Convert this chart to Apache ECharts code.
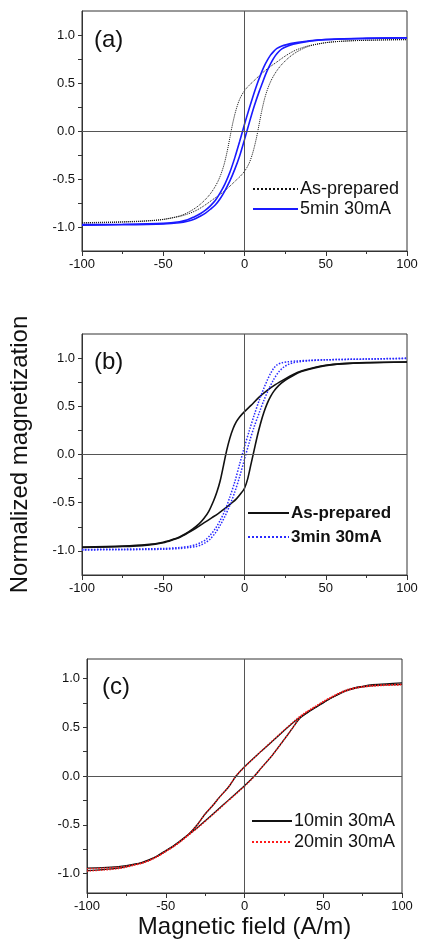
<!DOCTYPE html>
<html>
<head>
<meta charset="utf-8">
<script src="https://cdn.jsdelivr.net/npm/echarts@6/dist/echarts.min.js"></script>
<style>
html,body{margin:0;padding:0;background:#fff;}
#chart{width:422px;height:943px;}
</style>
</head>
<body>
<div id="chart"></div>
<script>
// ---- data: [field (A/m), normalized magnetization] ----
// Panel (a)
const aPrepUpper = [[-100,-0.955],[-75,-0.945],[-60,-0.935],[-50,-0.92],[-40,-0.885],[-35,-0.85],[-30,-0.80],[-26,-0.745],[-22,-0.675],[-19,-0.605],[-16.5,-0.53],[-14.5,-0.45],[-12.5,-0.345],[-10.5,-0.20],[-9,-0.07],[-7.5,0.06],[-6,0.17],[-4.5,0.26],[-3,0.33],[-1.5,0.38],[0,0.42],[2.5,0.47],[5,0.51],[10,0.59],[15,0.66],[20,0.72],[25,0.78],[30,0.83],[35,0.865],[40,0.89],[50,0.92],[60,0.935],[75,0.945],[100,0.95]];
const aPrepLower = [[-100,-0.96],[-75,-0.95],[-60,-0.938],[-50,-0.922],[-40,-0.89],[-35,-0.865],[-30,-0.83],[-25,-0.78],[-20,-0.72],[-15,-0.66],[-10,-0.59],[-5,-0.51],[-2.5,-0.47],[0,-0.42],[1.5,-0.38],[3,-0.33],[4.5,-0.26],[6,-0.17],[7.5,-0.06],[9,0.07],[10.5,0.20],[12.5,0.345],[14.5,0.45],[16.5,0.53],[19,0.605],[22,0.675],[26,0.745],[30,0.80],[35,0.85],[40,0.885],[50,0.92],[60,0.935],[75,0.945],[100,0.955]];
const a5minUpper = [[-100,-0.975],[-75,-0.972],[-50,-0.962],[-40,-0.945],[-35,-0.925],[-31,-0.895],[-27,-0.86],[-24,-0.825],[-21,-0.78],[-18,-0.725],[-15,-0.645],[-12,-0.55],[-9,-0.43],[-6,-0.28],[-3,-0.11],[0,0.07],[3,0.24],[6,0.40],[8,0.50],[10,0.59],[12,0.67],[14,0.735],[16,0.79],[18,0.83],[20,0.86],[23,0.885],[26,0.90],[30,0.915],[40,0.94],[50,0.953],[75,0.965],[100,0.97]];
const a5minLower = [[-100,-0.98],[-75,-0.977],[-50,-0.968],[-40,-0.955],[-35,-0.94],[-31,-0.92],[-27,-0.885],[-24,-0.855],[-21,-0.815],[-18,-0.77],[-15,-0.705],[-12,-0.62],[-9,-0.52],[-6,-0.40],[-3,-0.26],[0,-0.09],[3,0.09],[6,0.26],[9,0.41],[11,0.50],[13,0.59],[15,0.665],[17,0.73],[19,0.785],[21,0.825],[23,0.855],[26,0.88],[30,0.905],[40,0.935],[50,0.952],[75,0.965],[100,0.972]];
// Panel (b)
const bPrepUpper = [[-100,-0.96],[-75,-0.95],[-60,-0.935],[-50,-0.91],[-44,-0.88],[-40,-0.855],[-36,-0.82],[-32,-0.775],[-28,-0.72],[-25,-0.665],[-22,-0.59],[-19,-0.48],[-17,-0.39],[-15,-0.275],[-13,-0.12],[-11,0.04],[-9,0.17],[-7,0.27],[-5,0.34],[-3,0.39],[0,0.445],[4,0.51],[9,0.595],[14,0.665],[19,0.725],[25,0.785],[30,0.83],[35,0.865],[40,0.89],[50,0.925],[60,0.943],[75,0.953],[100,0.96]];
const bPrepLower = [[-100,-0.965],[-75,-0.955],[-60,-0.94],[-50,-0.915],[-44,-0.885],[-40,-0.86],[-35,-0.815],[-30,-0.765],[-25,-0.71],[-20,-0.655],[-16,-0.61],[-12,-0.56],[-8,-0.505],[-5,-0.46],[-2.5,-0.41],[0,-0.35],[2,-0.25],[4,-0.10],[6,0.05],[8,0.20],[10,0.33],[12,0.44],[14,0.53],[16,0.60],[18,0.655],[21,0.715],[25,0.77],[30,0.82],[35,0.86],[40,0.885],[50,0.922],[60,0.94],[75,0.952],[100,0.96]];
const b3minUpper = [[-100,-0.985],[-75,-0.982],[-50,-0.975],[-40,-0.965],[-34,-0.952],[-30,-0.935],[-27,-0.915],[-24,-0.885],[-21,-0.835],[-18,-0.77],[-15,-0.685],[-12,-0.58],[-9,-0.44],[-6,-0.285],[-3,-0.10],[0,0.08],[3,0.25],[6,0.41],[9,0.56],[12,0.69],[14,0.77],[16,0.84],[18,0.895],[20,0.93],[23,0.952],[27,0.962],[32,0.97],[40,0.977],[50,0.983],[75,0.99],[100,0.995]];
const b3minLower = [[-100,-0.99],[-75,-0.988],[-50,-0.983],[-40,-0.975],[-34,-0.965],[-30,-0.955],[-27,-0.94],[-24,-0.915],[-21,-0.875],[-18,-0.815],[-15,-0.735],[-12,-0.64],[-9,-0.525],[-6,-0.39],[-3,-0.23],[0,-0.05],[3,0.13],[6,0.29],[9,0.43],[12,0.565],[15,0.68],[18,0.78],[21,0.855],[24,0.905],[27,0.935],[30,0.952],[35,0.965],[40,0.973],[50,0.982],[75,0.99],[100,1.0]];
// Panel (c)
const c10minUpper = [[-100,-0.945],[-90,-0.94],[-80,-0.93],[-75,-0.92],[-70,-0.905],[-65,-0.885],[-60,-0.855],[-55,-0.815],[-50,-0.765],[-45,-0.715],[-40,-0.655],[-35,-0.59],[-30,-0.50],[-25,-0.39],[-20,-0.30],[-16,-0.22],[-10,-0.11],[-5.3,0.0],[0,0.095],[10,0.245],[20,0.39],[30,0.535],[35,0.60],[40,0.655],[45,0.705],[50,0.755],[55,0.80],[60,0.845],[65,0.88],[70,0.905],[75,0.92],[80,0.935],[90,0.945],[100,0.955]];
const c10minLower = [[-100,-0.97],[-90,-0.96],[-80,-0.945],[-75,-0.93],[-70,-0.91],[-65,-0.89],[-60,-0.86],[-55,-0.82],[-50,-0.77],[-45,-0.72],[-40,-0.66],[-35,-0.595],[-30,-0.53],[-20,-0.39],[-10,-0.245],[0,-0.10],[6.3,0.0],[10,0.07],[18,0.22],[25,0.37],[30,0.48],[35,0.59],[40,0.65],[45,0.70],[50,0.75],[55,0.80],[60,0.84],[65,0.875],[70,0.90],[75,0.915],[80,0.925],[90,0.935],[100,0.94]];
const c20minUpper = [[-100,-0.95],[-90,-0.945],[-80,-0.935],[-75,-0.925],[-70,-0.91],[-65,-0.89],[-60,-0.86],[-55,-0.82],[-50,-0.77],[-45,-0.72],[-40,-0.66],[-35,-0.59],[-30,-0.50],[-25,-0.39],[-20,-0.30],[-16,-0.22],[-10,-0.11],[-5.5,0.0],[0,0.09],[10,0.245],[20,0.395],[30,0.54],[35,0.61],[40,0.665],[45,0.715],[50,0.765],[55,0.81],[60,0.85],[65,0.885],[70,0.905],[75,0.918],[80,0.928],[90,0.935],[100,0.94]];
const c20minLower = [[-100,-0.975],[-90,-0.965],[-80,-0.95],[-75,-0.935],[-70,-0.915],[-65,-0.895],[-60,-0.865],[-55,-0.825],[-50,-0.775],[-45,-0.725],[-40,-0.665],[-35,-0.60],[-30,-0.535],[-20,-0.395],[-10,-0.25],[0,-0.105],[6.5,0.0],[10,0.07],[18,0.22],[25,0.37],[30,0.48],[35,0.595],[40,0.66],[45,0.71],[50,0.76],[55,0.805],[60,0.845],[65,0.875],[70,0.90],[75,0.912],[80,0.92],[90,0.93],[100,0.935]];

// axis ticks / labels
const yLabels = [-1.0, -0.5, 0.0, 0.5, 1.0];
const yTicks = [-1.0, -0.75, -0.5, -0.25, 0.0, 0.25, 0.5, 0.75, 1.0];
const panelTags = ['(a)', '(b)', '(c)'];
const legendA = ['As-prepared', '5min 30mA'];
const legendB = ['As-prepared', '3min 30mA'];
const legendC = ['10min 30mA', '20min 30mA'];

const FONT = 'Liberation Sans, Arial, Helvetica, sans-serif';
const AX = '#333';

const grids = [
  {left: 82, right: 15, top: 11, height: 240},
  {left: 82, right: 15, top: 334, height: 241},
  {left: 87, right: 20, top: 659, height: 234}
];
const yRanges = [[-1.25, 1.25], [-1.25, 1.25], [-1.2, 1.2]];

function xAxisFor(i, extra) {
  return Object.assign({
    type: 'value', gridIndex: i, min: -100, max: 100, interval: 50,
    axisLine: {show: true, onZero: false, lineStyle: {color: AX, width: 1}},
    axisTick: {show: true, length: 5, lineStyle: {color: AX}},
    minorTick: {show: true, splitNumber: 2, length: 3, lineStyle: {color: AX}},
    splitLine: {show: false},
    axisLabel: {fontFamily: FONT, fontSize: 13, color: '#111', margin: 7,
      formatter: v => String(v)}
  }, extra || {});
}
function yAxisFor(i, extra) {
  return Object.assign({
    type: 'value', gridIndex: i, min: yRanges[i][0], max: yRanges[i][1],
    axisLine: {show: true, onZero: false, lineStyle: {color: AX, width: 1}},
    axisTick: {show: true, length: 4, customValues: yTicks, lineStyle: {color: AX}},
    splitLine: {show: false},
    axisLabel: {fontFamily: FONT, fontSize: 13, color: '#111', margin: 7,
      customValues: yLabels, formatter: v => Number(v).toFixed(1)}
  }, extra || {});
}

function curve(name, data, i, color, width, type, z) {
  return {
    name: name, type: 'line', data: data, xAxisIndex: i, yAxisIndex: i,
    symbol: 'none', showSymbol: false, smooth: 0.3,
    lineStyle: {color: color, width: width, type: type},
    itemStyle: {color: color},
    emphasis: {disabled: true}, z: z || 3, animation: false
  };
}
function zeroLines(i) {
  return {
    type: 'line', data: [], xAxisIndex: i, yAxisIndex: i, z: 1, silent: true,
    markLine: {silent: true, symbol: 'none', animation: false,
      label: {show: false},
      lineStyle: {color: '#555', width: 1, type: 'solid'},
      data: [{xAxis: 0}, {yAxis: 0}]}
  };
}
function legendFor(i, names, left, top, itemWidth, gap, bold) {
  return {
    orient: 'vertical', left: left, top: top, padding: 0,
    itemWidth: itemWidth, itemHeight: 10, itemGap: gap,
    data: names.map(n => n + ' ' + panelTags[i]),
    formatter: n => n.replace(/ \([abc]\)$/, ''),
    selectedMode: false,
    itemStyle: {opacity: 0, borderWidth: 0},
    textStyle: {fontFamily: FONT, fontSize: bold ? 17 : 18, fontWeight: bold ? 'bold' : 'normal',
      color: '#111', lineHeight: 20, padding: [0, 0, 0, -3]}
  };
}

const option = {
  animation: false,
  backgroundColor: '#fff',
  textStyle: {fontFamily: FONT},
  title: [
    {text: panelTags[0], left: 89, top: 23, textStyle: {fontFamily: FONT, fontSize: 24, fontWeight: 'normal', color: '#111'}},
    {text: panelTags[1], left: 89, top: 345, textStyle: {fontFamily: FONT, fontSize: 24, fontWeight: 'normal', color: '#111'}},
    {text: panelTags[2], left: 97, top: 670, textStyle: {fontFamily: FONT, fontSize: 24, fontWeight: 'normal', color: '#111'}}
  ],
  grid: grids.map(g => Object.assign({show: true, borderColor: AX, borderWidth: 1, backgroundColor: 'transparent'}, g)),
  xAxis: [
    xAxisFor(0), xAxisFor(1),
    xAxisFor(2, {name: 'Magnetic field (A/m)', nameLocation: 'middle', nameGap: 22,
      nameTextStyle: {fontFamily: FONT, fontSize: 24, color: '#111'}})
  ],
  yAxis: [
    yAxisFor(0),
    yAxisFor(1, {name: 'Normalized magnetization', nameLocation: 'middle', nameGap: 50,
      nameTextStyle: {fontFamily: FONT, fontSize: 24, color: '#111'}}),
    yAxisFor(2)
  ],
  legend: [
    legendFor(0, legendA, 252, 179, 45, 0, false),
    legendFor(1, legendB, 247, 503, 41, 4, true),
    legendFor(2, legendC, 251, 811, 40, 1, false)
  ],
  series: [
    zeroLines(0), zeroLines(1), zeroLines(2),
    curve(legendA[0] + ' (a)', aPrepUpper, 0, '#111', 1, 'dotted'),
    curve(legendA[0] + ' (a)', aPrepLower, 0, '#111', 1, 'dotted'),
    curve(legendA[1] + ' (a)', a5minUpper, 0, '#1a1aff', 1.6, 'solid', 4),
    curve(legendA[1] + ' (a)', a5minLower, 0, '#1a1aff', 1.6, 'solid', 4),
    curve(legendB[0] + ' (b)', bPrepUpper, 1, '#111', 1.6, 'solid'),
    curve(legendB[0] + ' (b)', bPrepLower, 1, '#111', 1.6, 'solid'),
    curve(legendB[1] + ' (b)', b3minUpper, 1, '#2a2aff', 1.5, 'dotted', 4),
    curve(legendB[1] + ' (b)', b3minLower, 1, '#2a2aff', 1.5, 'dotted', 4),
    curve(legendC[0] + ' (c)', c10minUpper, 2, '#111', 1.3, 'solid'),
    curve(legendC[0] + ' (c)', c10minLower, 2, '#111', 1.3, 'solid'),
    curve(legendC[1] + ' (c)', c20minUpper, 2, '#ff1a1a', 1.4, 'dotted', 4),
    curve(legendC[1] + ' (c)', c20minLower, 2, '#ff1a1a', 1.4, 'dotted', 4)
  ]
};

const chart = echarts.init(document.getElementById('chart'), null, {renderer: 'canvas'});
chart.setOption(option);
</script>
</body>
</html>
